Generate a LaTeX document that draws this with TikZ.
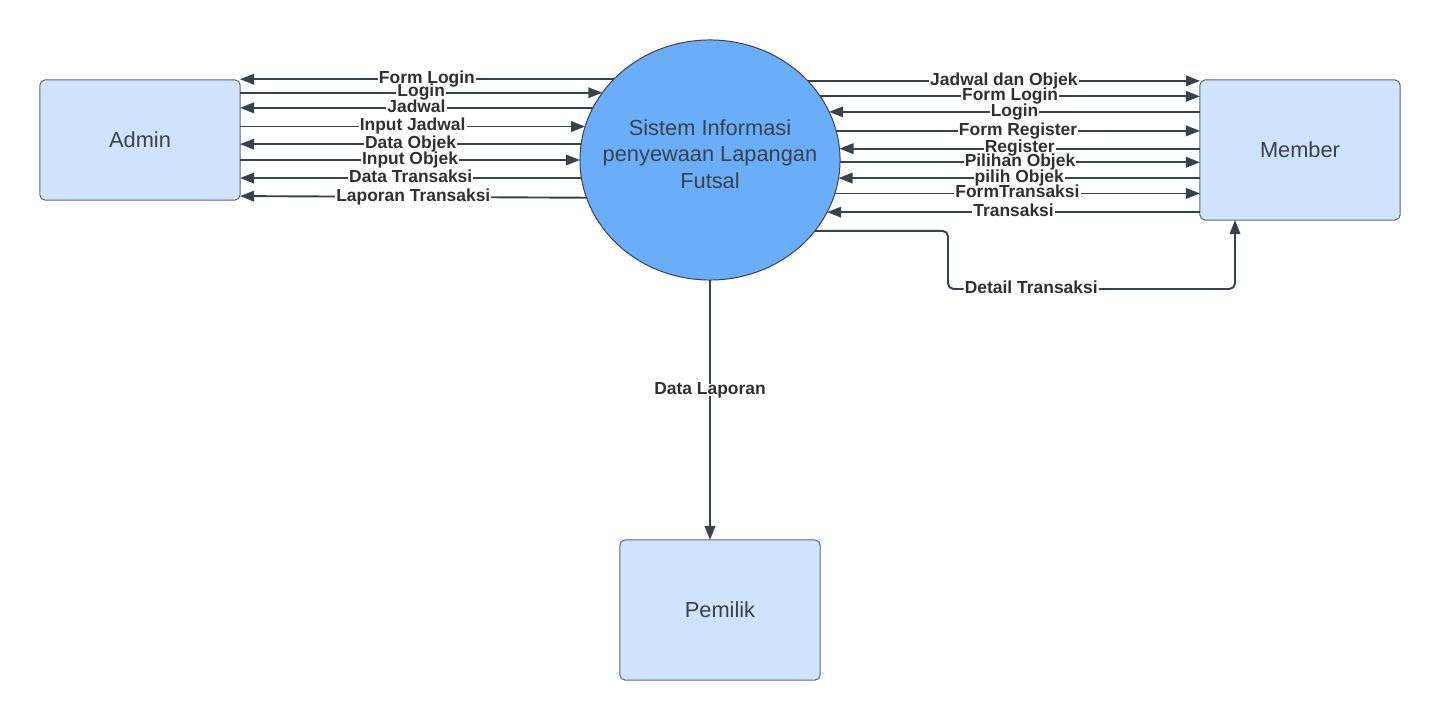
\documentclass[tikz,border=0pt]{standalone}
\usepackage{fontspec}
\setmainfont{Liberation Sans}
\usetikzlibrary{arrows.meta, calc, positioning, shapes.geometric}
\definecolor{boxfill}{HTML}{CFE3FE}
\definecolor{sisfill}{HTML}{6AAEFA}
\definecolor{linegray}{HTML}{3A414A}
\definecolor{edgegray}{HTML}{5E6670}
\definecolor{txtgray}{HTML}{303030}

\begin{document}
\begin{tikzpicture}[x=0.025cm, y=-0.025cm,% styles used in image code
          > = {Triangle[length=10pt, width=7.5pt]}, % defined in "arrows.meta"
 ent/.style = {draw=edgegray, line width=0.7pt, fill=boxfill,
               rounded corners=3.5pt, minimum width=5cm,
               inner sep=0pt, outer sep=0pt, text=linegray,
               font=\fontsize{15.5}{18.8}\selectfont},
proc/.style = {ellipse, draw=linegray, line width=0.7pt, fill=sisfill,
               minimum width=6.5cm, minimum height=6cm,
               inner sep=0pt, outer sep=0pt},
flow/.style = {draw=linegray, line width=1.35pt},
 lbl/.style = {fill=white, inner xsep=0.8pt, inner ysep=0pt,
               text height=0.74em, text depth=0.14em, text=txtgray,
               font=\fontsize{12.4}{13}\selectfont\bfseries}
                    ]
    \useasboundingbox (0,0) rectangle (1440,720);

    % entities and process
    \node[proc] (sis) at (710,160) {};
    \node[align=center, text=linegray, font=\fontsize{15.5}{18.8}\selectfont]
        (sistxt) at ($(sis.center)+(0,-6)$) {Sistem Informasi\\ penyewaan Lapangan\\ Futsal};
    \node[ent, minimum height=3cm]   (adm) at (140,140) {Admin};
    \node[ent, minimum height=3.5cm] (mem) at (1300,150) {Member};
    \node[ent, minimum height=3.5cm] (pem) at (720,610) {Pemilik};

    % admin flows
    \draw[flow, <-] (adm.east |- sis.140.5) -- (sis.140.5) node[lbl, midway] {Form Login};
    \draw[flow, ->] (adm.east |- sis.148.7) -- (sis.148.7) node[lbl, midway] {Login};
    \draw[flow, <-] (adm.east |- sis.156.6) -- (sis.156.6) node[lbl, midway] {Jadwal};
    \draw[flow, ->] (adm.east |- sis.165.7) -- (sis.165.7) node[lbl, midway] {Input Jadwal};
    \draw[flow, <-] (adm.east |- sis.173.4) -- (sis.173.4) node[lbl, midway] {Data Objek};
    \draw[flow, ->] (adm.east |- sis.180)   -- (sis.180)   node[lbl, midway] {Input Objek};
    \draw[flow, <-] (adm.east |- sis.188.4) -- (sis.188.4) node[lbl, midway] {Data Transaksi};
    \draw[flow, <-] ([yshift=2.8pt]adm.south east) -- (sis.197.6) node[lbl, midway] {Laporan Transaksi};

    % member flows
    \draw[flow, ->] (sis.39.5) -- (sis.39.5 -| mem.west) node[lbl, midway] {Jadwal dan Objek};
    \draw[flow, ->] (sis.30.2) -- (sis.30.2 -| mem.west) node[lbl, midway] {Form Login};
    \draw[flow, <-] (sis.22.0) -- (sis.22.0 -| mem.west) node[lbl, midway] {Login};
    \draw[flow, ->] (sis.13.9) -- (sis.13.9 -| mem.west) node[lbl, midway] {Form Register};
    \draw[flow, <-] (sis.5.3)  -- (sis.5.3 -| mem.west)  node[lbl, midway] {Register};
    \draw[flow, ->] (sis.-1.8) -- (sis.-1.8 -| mem.west) node[lbl, midway] {Pilihan Objek};
    \draw[flow, <-] (sis.-8.4) -- (sis.-8.4 -| mem.west) node[lbl, midway] {pilih Objek};
    \draw[flow, ->] (sis.-15.7) -- (sis.-15.7 -| mem.west) node[lbl, midway] {FormTransaksi};
    \draw[flow, <-] (sis.-24.9) -- (sis.-24.9 -| mem.west) node[lbl, midway] {Transaksi};

    \coordinate (dt1) at (948,289);
    \coordinate (dt2) at (1235,289);
    \draw[flow, ->, rounded corners=4pt] (sis.-34.7) -| (dt1) -- (dt2)
        node[lbl, pos=0.29] {Detail Transaksi} -- (dt2 |- mem.south);

    % owner flow
    \draw[flow, ->] (sis.south) -- (sis.south |- pem.north) node[lbl, pos=0.423] {Data Laporan};
\end{tikzpicture}
\end{document}
